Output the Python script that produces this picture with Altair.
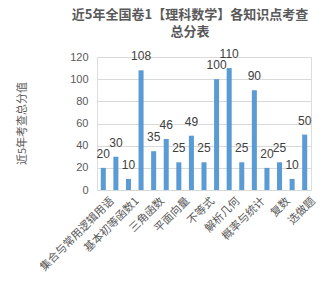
import altair as alt
import pandas as pd

categories = ["集合与常用逻辑用语", "函数概念与性质", "基本初等函数1", "导数及其应用", "三角函数",
              "解三角形", "平面向量", "数列", "不等式", "立体几何", "解析几何", "计数原理",
              "概率与统计", "算法初步", "复数", "推理与证明", "选做题"]
values = [20, 30, 10, 108, 35, 46, 25, 49, 25, 100, 110, 25, 90, 20, 25, 10, 50]
shown_labels = categories[::2]
y_ticks = [0, 20, 40, 60, 80, 100, 120]

df = pd.DataFrame({"cat": categories, "val": values})
FONT = "Noto Sans CJK SC"

base = alt.Chart(df).encode(
    x=alt.X("cat:N", sort=categories,
            scale=alt.Scale(paddingInner=0.6, paddingOuter=0.3),
            axis=alt.Axis(title=None, values=shown_labels, labelAngle=-45, labelAlign="right",
                          labelBaseline="middle", labelFontSize=11, labelColor="#595959",
                          labelFont=FONT, ticks=False, domainColor="#d9d9d9",
                          labelPadding=9, labelOffset=9, grid=False)),
    y=alt.Y("val:Q", scale=alt.Scale(domain=[0, 120]),
            axis=alt.Axis(title="近5年考查总分值", values=y_ticks, ticks=False, domain=False,
                          gridColor="#d9d9d9", labelFontSize=11, labelColor="#595959",
                          labelPadding=9, titleFontSize=11, titleColor="#595959",
                          titleFont=FONT, titleFontWeight="normal", titleX=-75, titleY=66,
                          titleAlign="center", titleBaseline="middle", titleAngle=-90))
)

bars = base.mark_bar(color="#5B9BD5")
text = base.mark_text(dy=-14, fontSize=12, color="#404040").encode(text="val:Q")

chart = (bars + text).properties(
    width=214, height=133,
    title=alt.TitleParams(["近5年全国卷1【理科数学】各知识点考查", "总分表"], fontSize=13,
                          font=FONT, fontWeight="bold", color="#595959", anchor="middle",
                          dx=-14, offset=9, lineHeight=17),
    autosize=alt.AutoSizeParams(type="none"),
    padding={"left": 97, "top": 57, "right": 15, "bottom": 96},
).configure_view(stroke=None).configure(background="white")

chart.save("out.html", embed_options={"renderer": "svg", "actions": False})
